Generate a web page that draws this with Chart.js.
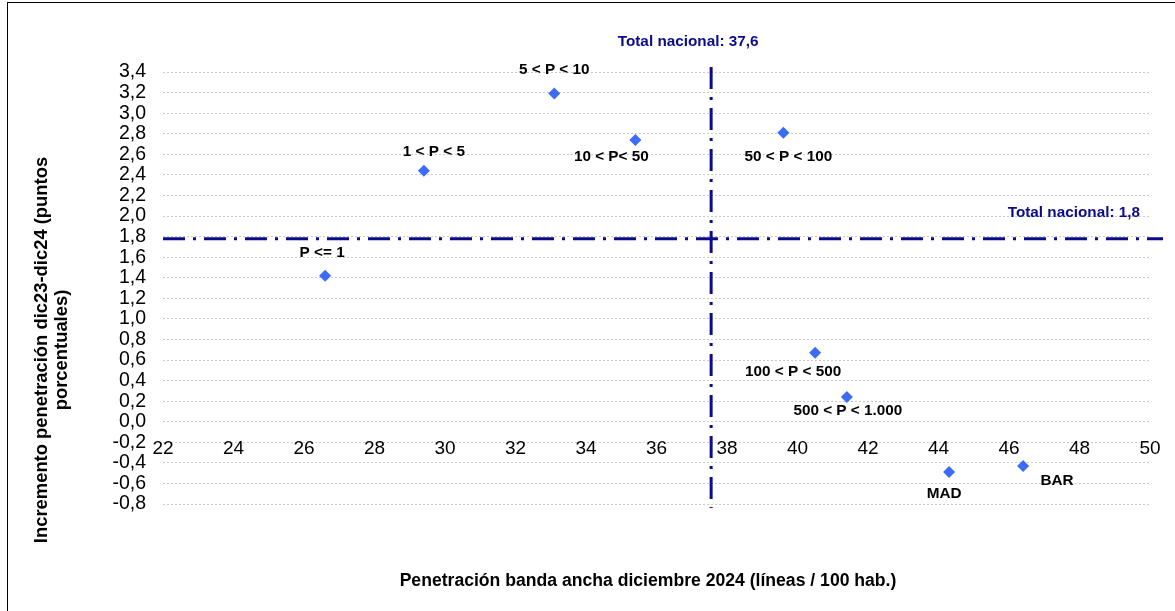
<!DOCTYPE html>
<html lang="es">
<head>
<meta charset="utf-8">
<title>Penetración banda ancha</title>
<script src="https://cdn.jsdelivr.net/npm/chart.js@4.4.1/dist/chart.umd.min.js"></script>
<style>
    body { margin: 0; background: #fff; font-family: "Liberation Sans", Arial, sans-serif; }
    #wrap { position: relative; width: 1175px; height: 611px; overflow: hidden; }
    #frame { position: absolute; left: 7px; top: 2px; width: 1200px; height: 700px; border-left: 1px solid #000; border-top: 1px solid #000; }
    #chart { position: absolute; left: 0; top: 0; }
    .axis-title { position: absolute; font-weight: bold; color: #000; white-space: nowrap; }
    #x-title { left: 648px; top: 570px; font-size: 17.6px; line-height: 20px; transform: translateX(-50%); }
    #y-title { left: -199px; top: 330px; width: 500px; font-size: 18.4px; line-height: 20px; text-align: center; transform: rotate(-90deg); }
</style>
</head>
<body>
<div id="wrap">
    <div id="frame"></div>
    <canvas id="chart" width="1175" height="611"></canvas>
    <div id="x-title" class="axis-title">Penetración banda ancha diciembre 2024 (líneas / 100 hab.)</div>
    <div id="y-title" class="axis-title">Incremento penetración dic23-dic24 (puntos<br>porcentuales)</div>
</div>
<script>
// Groups of municipalities by population (P, thousands of inhabitants)
const categories = ['P <= 1', '1 < P < 5', '5 < P < 10', '10 < P< 50', '50 < P < 100', '100 < P < 500', '500 < P < 1.000', 'MAD', 'BAR'];
// Penetration Dec 2024 (lines / 100 inhabitants)
const penetration = [26.6, 29.4, 33.1, 35.4, 39.6, 40.5, 41.4, 44.3, 46.4];
// Increase Dec23-Dec24 (percentage points)
const increment = [1.42, 2.44, 3.19, 2.74, 2.81, 0.67, 0.24, -0.49, -0.43];

// National total: penetration (x) and increase (y)
const nationalValues = [37.55, 1.78];
const nationalLabels = ['Total nacional: 37,6', 'Total nacional: 1,8'];

// Axis ranges: min, max, step
const xRange = [22, 50, 2];
const yRange = [-0.8, 3.4, 0.2];

// label placement around each point (px)
const labelOffsets = [[-3, -23], [10, -19], [0, -24], [-24, 17], [5, 24], [-22, 19], [1, 14], [-5, 22], [34, 15]];

const navy = '#0b0b8c';
const labelFont = 'bold 15.3px "Liberation Sans", Arial, sans-serif';

Chart.defaults.font.family = '"Liberation Sans", Arial, sans-serif';

const nationalLines = {
    id: 'nationalLines',
    beforeDatasetsDraw(chart) {
        const { ctx, chartArea, scales } = chart;
        const x = scales.x.getPixelForValue(nationalValues[0]);
        const y = scales.y.getPixelForValue(nationalValues[1]);

        ctx.save();
        ctx.strokeStyle = navy;
        ctx.lineWidth = 3;
        ctx.setLineDash([22, 8, 3, 8]);

        ctx.beginPath();
        ctx.moveTo(chartArea.left, y);
        ctx.lineTo(chartArea.right + 13, y);
        ctx.stroke();

        ctx.beginPath();
        ctx.moveTo(x, chartArea.top - 5);
        ctx.lineTo(x, chartArea.bottom + 4);
        ctx.stroke();

        ctx.font = labelFont;
        ctx.fillStyle = navy;
        ctx.textBaseline = 'middle';
        ctx.textAlign = 'center';
        ctx.fillText(nationalLabels[0], x - 23, chartArea.top - 30);
        ctx.textAlign = 'right';
        ctx.fillText(nationalLabels[1], chartArea.right - 10, y - 26);
        ctx.restore();
    }
};

const pointLabels = {
    id: 'pointLabels',
    afterDatasetsDraw(chart) {
        const ctx = chart.ctx;
        const meta = chart.getDatasetMeta(0);
        ctx.save();
        ctx.font = labelFont;
        ctx.fillStyle = '#000';
        ctx.textAlign = 'center';
        ctx.textBaseline = 'middle';
        meta.data.forEach((pt, i) => {
            const off = labelOffsets[i];
            ctx.fillText(categories[i], pt.x + off[0], pt.y + off[1]);
        });
        ctx.restore();
    }
};

function formatComma(value) {
    if (Math.abs(value) < 1e-9) value = 0;
    return value.toFixed(1).replace('.', ',');
}

document.addEventListener('DOMContentLoaded', function() {
    const ctx = document.getElementById('chart').getContext('2d');

    window.scatterChart = new Chart(ctx, {
        type: 'scatter',
        data: {
            datasets: [{
                label: 'Municipios',
                data: penetration.map((x, i) => ({ x: x, y: increment[i] })),
                pointStyle: 'rectRot',
                pointRadius: 6,
                pointHoverRadius: 6,
                backgroundColor: '#3b6cf5',
                borderWidth: 0
            }]
        },
        options: {
            responsive: false,
            animation: false,
            devicePixelRatio: 1,
            layout: {
                // x axis sits inside the plot at -0.2, so the bottom margin is plain padding
                padding: { top: 72, right: 25, left: 0, bottom: 107 }
            },
            plugins: {
                legend: { display: false },
                tooltip: { enabled: false }
            },
            scales: {
                x: {
                    type: 'linear',
                    position: { y: -0.2 },
                    min: xRange[0],
                    max: xRange[1],
                    grid: { display: false },
                    border: { display: false },
                    ticks: {
                        stepSize: xRange[2],
                        autoSkip: false,
                        maxRotation: 0,
                        padding: -11,
                        color: '#000',
                        font: { size: 19, lineHeight: 1 }
                    }
                },
                y: {
                    min: yRange[0],
                    max: yRange[1],
                    grid: { color: '#c6cdc0', lineWidth: 1, drawTicks: false },
                    border: { display: false, dash: [2, 2] },
                    ticks: {
                        stepSize: yRange[2],
                        autoSkip: false,
                        padding: 17,
                        color: '#000',
                        font: { size: 19.5, lineHeight: 1 },
                        callback: value => formatComma(value)
                    },
                    afterFit(scale) { scale.width = 163; }
                }
            }
        },
        plugins: [nationalLines, pointLabels]
    });
});
</script>
</body>
</html>
